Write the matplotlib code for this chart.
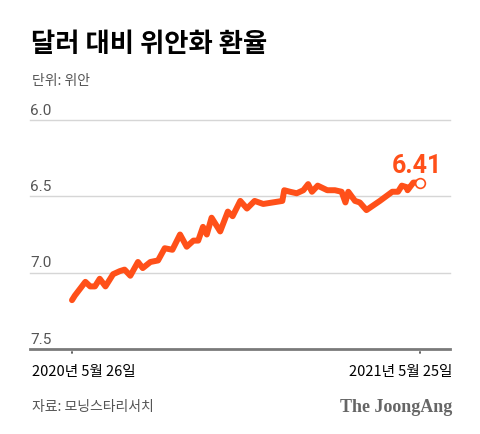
import numpy as np
import pandas as pd
import matplotlib
matplotlib.use("Agg")
import matplotlib.pyplot as plt

# ---------------- DATA ----------------
start_date = pd.Timestamp("2020-05-26")
end_date = pd.Timestamp("2021-05-25")
day_offsets = [0, 3, 14, 19, 24, 29, 35, 43, 50, 55, 61, 69, 74, 82, 90, 97,
               105, 113, 120, 127, 132, 137, 141, 146, 155, 163, 168, 176,
               183, 191, 200, 210, 220, 222, 228, 235, 242, 247, 251, 257,
               267, 275, 282, 286, 289, 296, 301, 308, 315, 322, 335, 341,
               345, 350, 351, 357, 364]
cny_per_usd = [7.18, 7.15, 7.06, 7.09, 7.09, 7.04, 7.09, 7.01, 6.99, 6.98,
               7.02, 6.93, 6.97, 6.93, 6.92, 6.84, 6.85, 6.75, 6.83, 6.79,
               6.79, 6.70, 6.75, 6.64, 6.73, 6.60, 6.63, 6.53, 6.58, 6.53,
               6.55, 6.54, 6.53, 6.46, 6.47, 6.48, 6.46, 6.42, 6.47, 6.43,
               6.46, 6.46, 6.47, 6.54, 6.47, 6.53, 6.54, 6.59, 6.56, 6.53,
               6.47, 6.47, 6.43, 6.44, 6.46, 6.41, 6.41]
y_ticks = [6.0, 6.5, 7.0, 7.5]
last_label = "6.41"

title = "달러 대비 위안화 환율"
unit_text = "단위: 위안"
source_text = "자료: 모닝스타리서치"
start_label = "2020년 5월 26일"
end_label = "2021년 5월 25일"

dates = start_date + pd.to_timedelta(day_offsets, unit="D")

# ---------------- STYLE ----------------
plt.rcParams["font.family"] = ["Noto Sans CJK KR", "DejaVu Sans"]
line_color = "#FF5019"
W, H = 480, 435

fig = plt.figure(figsize=(W / 100, H / 100), dpi=100)
ax = fig.add_axes([30 / W, 1 - 350 / H, 420 / W, 229 / H])

ax.plot(dates, cny_per_usd, color=line_color, lw=4.3, solid_joinstyle="round",
        solid_capstyle="round", zorder=3)
ax.plot(dates[-1], cny_per_usd[-1], "o", ms=7, mfc="white", mec=line_color,
        mew=1.2, zorder=4)

# x range so that the first/last dates land at pixel 72 / 420
span = (end_date - start_date).days
left_pad = span * 42 / 348
right_pad = span * 30 / 348
ax.set_xlim(start_date - pd.Timedelta(days=left_pad),
            end_date + pd.Timedelta(days=right_pad))
ax.set_ylim(7.5, 6.0)

for s in ax.spines.values():
    s.set_visible(False)
ax.set_xticks([])
ax.set_yticks([])

for v in y_ticks:
    if v == 7.5:
        ax.axhline(v, color="#7a7a7a", lw=2, zorder=2, clip_on=False)
    else:
        ax.axhline(v, color="#d6d6d6", lw=1, zorder=1, clip_on=False)
    ax.annotate(f"{v:.1f}", xy=(0, v), xycoords=ax.get_yaxis_transform(),
                xytext=(0, 7.5), textcoords="offset points",
                ha="left", va="center", fontsize=11, color="#555555",
                family=["Roboto", "DejaVu Sans"])

# ticks at the first and last date
for d in [start_date, end_date]:
    ax.annotate("", xy=(d, 7.5), xytext=(0, -5), textcoords="offset points",
                arrowprops=dict(arrowstyle="-", color="#222222", lw=1))

ax.annotate(last_label, xy=(dates[-1], cny_per_usd[-1]),
            xytext=(-2, 13), textcoords="offset points",
            ha="center", va="center", fontsize=18, fontweight="bold",
            color=line_color, family=["Roboto", "DejaVu Sans"])

# ---------------- TEXTS ----------------
fig.text(31 / W, 1 - 45 / H, title, fontsize=19, fontweight="bold",
         color="black", ha="left", va="center")
fig.text(32 / W, 1 - 81 / H, unit_text, fontsize=10, color="#555555",
         ha="left", va="center")
fig.text(32 / W, 1 - 372 / H, start_label, fontsize=10.5, color="black",
         ha="left", va="center")
fig.text(452 / W, 1 - 372 / H, end_label, fontsize=10.5, color="black",
         ha="right", va="center")
fig.text(32 / W, 1 - 407 / H, source_text, fontsize=10, color="#555555",
         ha="left", va="center")
fig.text(452 / W, 1 - 408 / H, "The JoongAng", fontsize=13, fontweight="bold",
         color="#666666", ha="right", va="center",
         family=["Liberation Serif", "DejaVu Serif"])

fig.savefig("out.png", dpi=100, facecolor="white")
